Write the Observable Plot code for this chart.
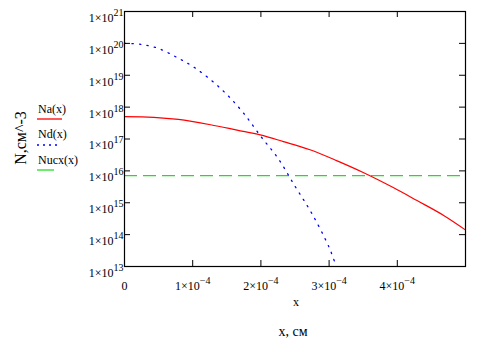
<!DOCTYPE html>
<html><head><meta charset="utf-8">
<script src="https://cdn.jsdelivr.net/npm/d3@7"></script>
<script src="https://cdn.jsdelivr.net/npm/@observablehq/plot@0.6"></script>
<style>body{margin:0;background:#fff}#chart{width:481px;height:347px}</style>
</head><body><div id="chart"></div>
<script>
// Na(x): acceptor profile (x in cm, N in cm^-3)
const naX = [0, 0.43e-4, 0.79e-4, 1.26e-4, 1.65e-4, 1.99e-4, 2.33e-4, 2.72e-4, 3.11e-4, 3.50e-4, 3.94e-4, 4.29e-4, 4.68e-4, 5.0e-4];
const naN = [5.0e17, 4.8e17, 4.1e17, 2.8e17, 1.9e17, 1.35e17, 8.3e16, 4.6e16, 2.1e16, 8.9e15, 3.0e15, 1.17e15, 4.0e14, 1.4e14];
// Nd(x): donor profile
const ndX = [0, 0.25e-4, 0.5e-4, 0.75e-4, 1.0e-4, 1.25e-4, 1.5e-4, 1.75e-4, 2.0e-4, 2.25e-4, 2.5e-4, 2.75e-4, 3.0e-4, 3.1e-4];
const ndN = [1.0e20, 9.3e19, 6.9e19, 3.8e19, 1.9e19, 7.6e18, 2.5e18, 6.3e17, 1.2e17, 2.5e16, 3.3e15, 4.5e14, 4.0e13, 1.07e13];
// Nucx(x): constant level
const nucxN = [7.1e15];
// ticks
const xTicks = [0, 1e-4, 2e-4, 3e-4, 4e-4];
const xInnerTicks = [1e-4, 2e-4, 3e-4, 4e-4];
const yTicks = [1e13, 1e14, 1e15, 1e16, 1e17, 1e18, 1e19, 1e20, 1e21];
const yInnerTicks = [1e14, 1e15, 1e16, 1e17, 1e18, 1e19, 1e20];
const legendNames = ["Na(x)", "Nd(x)", "Nucx(x)"];

const W = 481, H = 347, mL = 124, mR = 16, mT = 11, mB = 81;
const innerW = W - mL - mR, innerH = H - mT - mB;
const font = "'Liberation Serif', 'Times New Roman', serif";

const na = naX.map((x, i) => ({x, n: naN[i]}));
const nd = ndX.map((x, i) => ({x, n: ndN[i]}));

const chart = Plot.plot({
  width: W, height: H,
  marginLeft: mL, marginRight: mR, marginTop: mT, marginBottom: mB,
  style: {fontFamily: font, fontSize: "12px", color: "black", background: "white"},
  x: {domain: [0, 5e-4], ticks: xTicks, tickSize: 0, tickPadding: 15, label: null,
      tickFormat: d => d === 0 ? "0" : `${Math.round(d / 1e-4)}×10|−4`},
  y: {type: "log", domain: [1e13, 1e21], ticks: yTicks, tickSize: 0, tickPadding: 1, label: null,
      tickFormat: d => `1×10|${Math.round(Math.log10(d))}`},
  marks: [
    Plot.ruleY(nucxN, {y: d => d, stroke: "#22dd22", strokeWidth: 1.2, strokeDasharray: "13,6"}),
    Plot.line(na, {x: "x", y: "n", stroke: "#ff0000", strokeWidth: 1.2, curve: "catmull-rom", clip: true}),
    Plot.line(nd, {x: "x", y: "n", stroke: "#0000ff", strokeWidth: 1.3, strokeDasharray: "1.3,6.2", curve: "catmull-rom", clip: true}),
    Plot.tickX(xInnerTicks, {x: d => d, insetTop: innerH - 6, stroke: "black"}),
    Plot.tickX(xInnerTicks, {x: d => d, insetBottom: innerH - 6, stroke: "black"}),
    Plot.tickY(yInnerTicks, {y: d => d, insetRight: innerW - 6, stroke: "black"}),
    Plot.tickY(yInnerTicks, {y: d => d, insetLeft: innerW - 6, stroke: "black"}),
    Plot.frame({stroke: "black", strokeWidth: 1.2})
  ]
});
document.getElementById("chart").appendChild(chart);

const svg = d3.select(chart);
// superscripts for tick labels
svg.selectAll("g[aria-label$='tick label'] text").each(function() {
  const t = d3.select(this);
  t.attr("font-size", 12).attr("font-family", font).attr("fill", "black");
  const s = t.text();
  if (s.includes("|")) {
    const [base, exp] = s.split("|");
    t.text(null);
    t.append("tspan").text(base);
    t.append("tspan").attr("dy", -6).attr("font-size", 10).text(exp);
  }
});
svg.selectAll("g[aria-label='y-axis tick label'] text").attr("dy", "0.55em");

function addText(x, y, size, txt, anchor, transform) {
  const t = svg.append("text").attr("font-family", font).attr("font-size", size)
    .attr("fill", "black").attr("text-anchor", anchor).text(txt);
  if (transform) t.attr("transform", transform); else t.attr("x", x).attr("y", y);
  return t;
}
// y label
addText(0, 0, 16, "N,см^-3", "middle", "translate(26,138) rotate(-90)");
// x labels
addText(296, 306, 12, "x", "middle");
addText(293, 336, 14, "х, см", "middle");

// legend
const lg = [
  {name: legendNames[0], ty: 113, ly: 119, x2: 62, stroke: "#ff0000", dash: null},
  {name: legendNames[1], ty: 138, ly: 145, x2: 57, stroke: "#0000ff", dash: "2,4"},
  {name: legendNames[2], ty: 164, ly: 170, x2: 54, stroke: "#22dd22", dash: null}
];
for (const l of lg) {
  addText(38, l.ty, 12, l.name, "start");
  svg.append("line").attr("x1", 37).attr("x2", l.x2).attr("y1", l.ly).attr("y2", l.ly)
    .attr("stroke", l.stroke).attr("stroke-width", 1.3).attr("stroke-dasharray", l.dash);
}
</script></body></html>
